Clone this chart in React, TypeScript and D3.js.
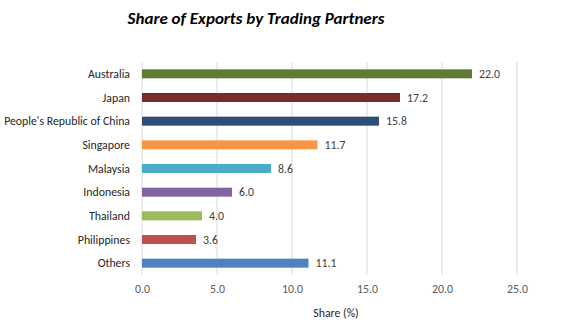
import { useEffect, useRef } from "react";
import { axisBottom, format, scaleBand, scaleLinear, select } from "d3";

const categories = [
  "Australia",
  "Japan",
  "People's Republic of China",
  "Singapore",
  "Malaysia",
  "Indonesia",
  "Thailand",
  "Philippines",
  "Others",
];
const shares = [22.0, 17.2, 15.8, 11.7, 8.6, 6.0, 4.0, 3.6, 11.1];
const barColors = [
  "#617a33",
  "#772c2a",
  "#2c4d75",
  "#f79646",
  "#4bacc6",
  "#8064a2",
  "#9bbb59",
  "#c0504d",
  "#4f81bd",
];
const xTicks = [0, 5, 10, 15, 20, 25];

const FONT = "Calibri, Carlito, 'Open Sans', 'Noto Sans', sans-serif";

export default function App() {
  const svgRef = useRef<SVGSVGElement | null>(null);

  useEffect(() => {
    if (!svgRef.current) return;
    const svg = select(svgRef.current);
    svg.selectAll("*").remove();

    const width = 573;
    const height = 329;
    const left = 142;
    const right = 517;
    const top = 62;
    const bottom = 275;

    const x = scaleLinear().domain([0, 25]).range([left, right]);
    const y = scaleBand<string>()
      .domain(categories)
      .range([top, bottom])
      .paddingInner(0.62)
      .paddingOuter(0.31);

    svg.attr("viewBox", `0 0 ${width} ${height}`);

    svg
      .append("text")
      .attr("x", 256)
      .attr("y", 24)
      .attr("text-anchor", "middle")
      .attr("font-family", FONT)
      .attr("font-size", 17)
      .attr("font-weight", "bold")
      .attr("font-style", "italic")
      .attr("fill", "#000")
      .text("Share of Exports by Trading Partners");

    // gridlines
    svg
      .append("g")
      .selectAll("line")
      .data(xTicks)
      .join("line")
      .attr("x1", (d) => x(d))
      .attr("x2", (d) => x(d))
      .attr("y1", top)
      .attr("y2", bottom)
      .attr("stroke", "#d9d9d9")
      .attr("stroke-width", 1);

    const axis = svg
      .append("g")
      .attr("transform", `translate(0, ${bottom})`)
      .call(
        axisBottom(x)
          .tickValues(xTicks)
          .tickFormat(format(".1f"))
          .tickSize(0)
          .tickPadding(10)
      );
    axis.select(".domain").remove();
    axis
      .selectAll("text")
      .attr("font-family", FONT)
      .attr("font-size", 11.8)
      .attr("fill", "#595959");

    // bars
    svg
      .append("g")
      .selectAll("rect")
      .data(categories)
      .join("rect")
      .attr("x", x(0))
      .attr("y", (d) => y(d) ?? 0)
      .attr("width", (_, i) => x(shares[i]) - x(0))
      .attr("height", y.bandwidth())
      .attr("fill", (_, i) => barColors[i]);

    // value labels
    svg
      .append("g")
      .selectAll("text")
      .data(categories)
      .join("text")
      .attr("x", (_, i) => x(shares[i]) + 7)
      .attr("y", (d) => (y(d) ?? 0) + y.bandwidth() / 2)
      .attr("dy", "0.35em")
      .attr("font-family", FONT)
      .attr("font-size", 11.8)
      .attr("fill", "#404040")
      .text((_, i) => format(".1f")(shares[i]));

    // category labels
    svg
      .append("g")
      .selectAll("text")
      .data(categories)
      .join("text")
      .attr("x", 130)
      .attr("y", (d) => (y(d) ?? 0) + y.bandwidth() / 2)
      .attr("dy", "0.35em")
      .attr("text-anchor", "end")
      .attr("font-family", FONT)
      .attr("font-size", 11.8)
      .attr("fill", "#262626")
      .text((d) => d);

    svg
      .append("text")
      .attr("x", 336)
      .attr("y", 317)
      .attr("text-anchor", "middle")
      .attr("font-family", FONT)
      .attr("font-size", 11.8)
      .attr("fill", "#262626")
      .text("Share (%)");
  }, []);

  return (
    <svg
      ref={svgRef}
      width={573}
      height={329}
      style={{ position: "absolute", left: 0, top: 0, display: "block", background: "#fff" }}
    />
  );
}
